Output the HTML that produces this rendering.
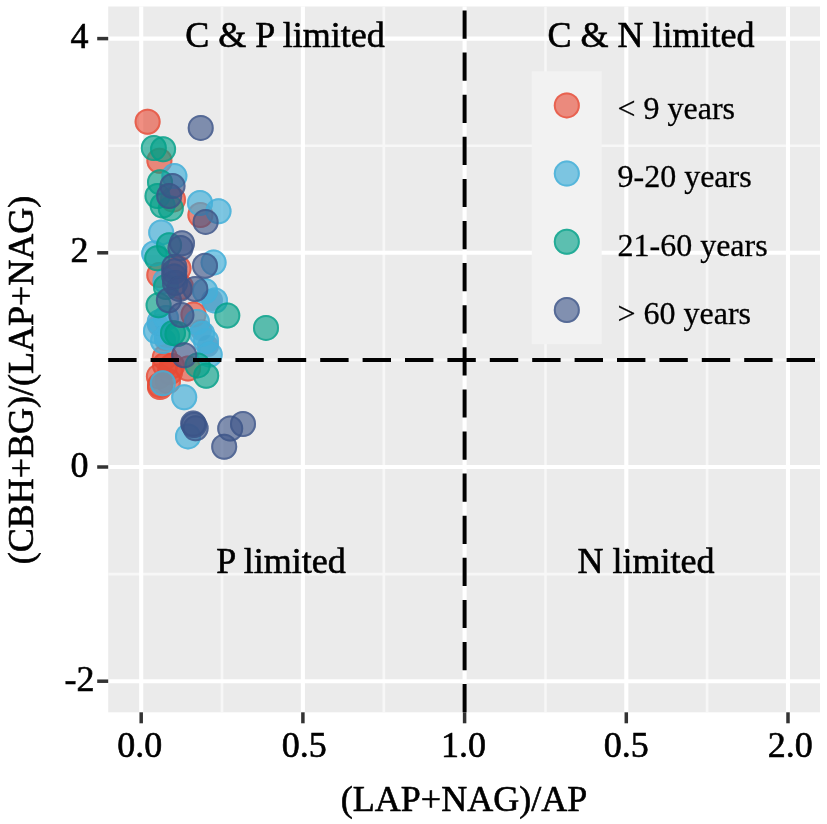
<!DOCTYPE html>
<html><head><meta charset="utf-8"><style>
html,body{margin:0;padding:0;background:#fff;width:827px;height:824px;overflow:hidden}
svg{display:block;filter:blur(0.5px)}
text{font-family:"Liberation Serif",serif;font-size:36px;fill:#000;stroke:#000;stroke-width:0.6px}
</style></head><body>
<svg width="827" height="824" viewBox="0 0 827 824">
<rect x="108.2" y="6.5" width="711.8" height="705.8" fill="#EBEBEB"/>
<line x1="222.0" y1="6.5" x2="222.0" y2="712.3" stroke="#F7F7F7" stroke-width="2.6"/>
<line x1="383.8" y1="6.5" x2="383.8" y2="712.3" stroke="#F7F7F7" stroke-width="2.6"/>
<line x1="545.5" y1="6.5" x2="545.5" y2="712.3" stroke="#F7F7F7" stroke-width="2.6"/>
<line x1="707.1" y1="6.5" x2="707.1" y2="712.3" stroke="#F7F7F7" stroke-width="2.6"/>
<line x1="108.2" y1="145.7" x2="820.0" y2="145.7" stroke="#F7F7F7" stroke-width="2.6"/>
<line x1="108.2" y1="359.9" x2="820.0" y2="359.9" stroke="#F7F7F7" stroke-width="2.6"/>
<line x1="108.2" y1="574.1" x2="820.0" y2="574.1" stroke="#F7F7F7" stroke-width="2.6"/>
<line x1="141.2" y1="6.5" x2="141.2" y2="712.3" stroke="#FFFFFF" stroke-width="4.1"/>
<line x1="302.9" y1="6.5" x2="302.9" y2="712.3" stroke="#FFFFFF" stroke-width="4.1"/>
<line x1="464.6" y1="6.5" x2="464.6" y2="712.3" stroke="#FFFFFF" stroke-width="4.1"/>
<line x1="626.3" y1="6.5" x2="626.3" y2="712.3" stroke="#FFFFFF" stroke-width="4.1"/>
<line x1="788.0" y1="6.5" x2="788.0" y2="712.3" stroke="#FFFFFF" stroke-width="4.1"/>
<line x1="108.2" y1="38.6" x2="820.0" y2="38.6" stroke="#FFFFFF" stroke-width="4.1"/>
<line x1="108.2" y1="252.8" x2="820.0" y2="252.8" stroke="#FFFFFF" stroke-width="4.1"/>
<line x1="108.2" y1="467.0" x2="820.0" y2="467.0" stroke="#FFFFFF" stroke-width="4.1"/>
<line x1="108.2" y1="681.2" x2="820.0" y2="681.2" stroke="#FFFFFF" stroke-width="4.1"/>
<line x1="141.2" y1="712.3" x2="141.2" y2="723.3" stroke="#333" stroke-width="3.5"/>
<line x1="302.9" y1="712.3" x2="302.9" y2="723.3" stroke="#333" stroke-width="3.5"/>
<line x1="464.6" y1="712.3" x2="464.6" y2="723.3" stroke="#333" stroke-width="3.5"/>
<line x1="626.3" y1="712.3" x2="626.3" y2="723.3" stroke="#333" stroke-width="3.5"/>
<line x1="788.0" y1="712.3" x2="788.0" y2="723.3" stroke="#333" stroke-width="3.5"/>
<line x1="97.2" y1="38.6" x2="108.2" y2="38.6" stroke="#333" stroke-width="3.5"/>
<line x1="97.2" y1="252.8" x2="108.2" y2="252.8" stroke="#333" stroke-width="3.5"/>
<line x1="97.2" y1="467.0" x2="108.2" y2="467.0" stroke="#333" stroke-width="3.5"/>
<line x1="97.2" y1="681.2" x2="108.2" y2="681.2" stroke="#333" stroke-width="3.5"/>
<g id="pts">
<circle cx="158" cy="325" r="11" fill="#3C5488" fill-opacity="0.55"/>
<circle cx="165" cy="340" r="11" fill="#3C5488" fill-opacity="0.55"/>
<circle cx="201" cy="330" r="11" fill="#3C5488" fill-opacity="0.55"/>
<circle cx="208" cy="346" r="11" fill="#3C5488" fill-opacity="0.55"/>
<circle cx="212" cy="300" r="11" fill="#3C5488" fill-opacity="0.55"/>
<circle cx="147.6" cy="121.8" r="13" fill="#E64B35" fill-opacity="0.62"/><circle cx="147.6" cy="121.8" r="12" fill="none" stroke="#E64B35" stroke-opacity="0.62" stroke-width="2"/>
<circle cx="159.4" cy="160.7" r="13" fill="#E64B35" fill-opacity="0.62"/><circle cx="159.4" cy="160.7" r="12" fill="none" stroke="#E64B35" stroke-opacity="0.62" stroke-width="2"/>
<circle cx="173" cy="199.6" r="13" fill="#E64B35" fill-opacity="0.62"/><circle cx="173" cy="199.6" r="12" fill="none" stroke="#E64B35" stroke-opacity="0.62" stroke-width="2"/>
<circle cx="200.4" cy="215" r="13" fill="#E64B35" fill-opacity="0.62"/><circle cx="200.4" cy="215" r="12" fill="none" stroke="#E64B35" stroke-opacity="0.62" stroke-width="2"/>
<circle cx="159.3" cy="275" r="13" fill="#E64B35" fill-opacity="0.62"/><circle cx="159.3" cy="275" r="12" fill="none" stroke="#E64B35" stroke-opacity="0.62" stroke-width="2"/>
<circle cx="178.5" cy="268.5" r="13" fill="#E64B35" fill-opacity="0.62"/><circle cx="178.5" cy="268.5" r="12" fill="none" stroke="#E64B35" stroke-opacity="0.62" stroke-width="2"/>
<circle cx="181" cy="287" r="13" fill="#E64B35" fill-opacity="0.62"/><circle cx="181" cy="287" r="12" fill="none" stroke="#E64B35" stroke-opacity="0.62" stroke-width="2"/>
<circle cx="193.5" cy="314.5" r="13" fill="#E64B35" fill-opacity="0.62"/><circle cx="193.5" cy="314.5" r="12" fill="none" stroke="#E64B35" stroke-opacity="0.62" stroke-width="2"/>
<circle cx="164.8" cy="357.4" r="13" fill="#E64B35" fill-opacity="0.62"/><circle cx="164.8" cy="357.4" r="12" fill="none" stroke="#E64B35" stroke-opacity="0.62" stroke-width="2"/>
<circle cx="158.9" cy="376.4" r="13" fill="#E64B35" fill-opacity="0.62"/><circle cx="158.9" cy="376.4" r="12" fill="none" stroke="#E64B35" stroke-opacity="0.62" stroke-width="2"/>
<circle cx="160" cy="385" r="13" fill="#E64B35" fill-opacity="0.62"/><circle cx="160" cy="385" r="12" fill="none" stroke="#E64B35" stroke-opacity="0.62" stroke-width="2"/>
<circle cx="188" cy="368.5" r="13" fill="#E64B35" fill-opacity="0.62"/><circle cx="188" cy="368.5" r="12" fill="none" stroke="#E64B35" stroke-opacity="0.62" stroke-width="2"/>
<circle cx="172" cy="366" r="13" fill="#E64B35" fill-opacity="0.62"/><circle cx="172" cy="366" r="12" fill="none" stroke="#E64B35" stroke-opacity="0.62" stroke-width="2"/>
<circle cx="168" cy="381" r="13" fill="#E64B35" fill-opacity="0.62"/><circle cx="168" cy="381" r="12" fill="none" stroke="#E64B35" stroke-opacity="0.62" stroke-width="2"/>
<circle cx="160" cy="387" r="13" fill="#E64B35" fill-opacity="0.62"/><circle cx="160" cy="387" r="12" fill="none" stroke="#E64B35" stroke-opacity="0.62" stroke-width="2"/>
<circle cx="170" cy="372" r="13" fill="#E64B35" fill-opacity="0.62"/><circle cx="170" cy="372" r="12" fill="none" stroke="#E64B35" stroke-opacity="0.62" stroke-width="2"/>
<circle cx="165" cy="365" r="13" fill="#E64B35" fill-opacity="0.62"/><circle cx="165" cy="365" r="12" fill="none" stroke="#E64B35" stroke-opacity="0.62" stroke-width="2"/>
<circle cx="174.4" cy="176.1" r="13" fill="#44AFD8" fill-opacity="0.68"/><circle cx="174.4" cy="176.1" r="12" fill="none" stroke="#44AFD8" stroke-opacity="0.68" stroke-width="2"/>
<circle cx="200" cy="203" r="13" fill="#44AFD8" fill-opacity="0.68"/><circle cx="200" cy="203" r="12" fill="none" stroke="#44AFD8" stroke-opacity="0.68" stroke-width="2"/>
<circle cx="218.5" cy="211.3" r="13" fill="#44AFD8" fill-opacity="0.68"/><circle cx="218.5" cy="211.3" r="12" fill="none" stroke="#44AFD8" stroke-opacity="0.68" stroke-width="2"/>
<circle cx="161.2" cy="232.5" r="13" fill="#44AFD8" fill-opacity="0.68"/><circle cx="161.2" cy="232.5" r="12" fill="none" stroke="#44AFD8" stroke-opacity="0.68" stroke-width="2"/>
<circle cx="154.2" cy="253.5" r="13" fill="#44AFD8" fill-opacity="0.68"/><circle cx="154.2" cy="253.5" r="12" fill="none" stroke="#44AFD8" stroke-opacity="0.68" stroke-width="2"/>
<circle cx="213.6" cy="262.6" r="13" fill="#44AFD8" fill-opacity="0.68"/><circle cx="213.6" cy="262.6" r="12" fill="none" stroke="#44AFD8" stroke-opacity="0.68" stroke-width="2"/>
<circle cx="205" cy="291" r="13" fill="#44AFD8" fill-opacity="0.68"/><circle cx="205" cy="291" r="12" fill="none" stroke="#44AFD8" stroke-opacity="0.68" stroke-width="2"/>
<circle cx="215" cy="300.5" r="13" fill="#44AFD8" fill-opacity="0.68"/><circle cx="215" cy="300.5" r="12" fill="none" stroke="#44AFD8" stroke-opacity="0.68" stroke-width="2"/>
<circle cx="159.7" cy="322" r="13" fill="#44AFD8" fill-opacity="0.68"/><circle cx="159.7" cy="322" r="12" fill="none" stroke="#44AFD8" stroke-opacity="0.68" stroke-width="2"/>
<circle cx="156" cy="331" r="13" fill="#44AFD8" fill-opacity="0.68"/><circle cx="156" cy="331" r="12" fill="none" stroke="#44AFD8" stroke-opacity="0.68" stroke-width="2"/>
<circle cx="197" cy="322" r="13" fill="#44AFD8" fill-opacity="0.68"/><circle cx="197" cy="322" r="12" fill="none" stroke="#44AFD8" stroke-opacity="0.68" stroke-width="2"/>
<circle cx="206" cy="341" r="13" fill="#44AFD8" fill-opacity="0.68"/><circle cx="206" cy="341" r="12" fill="none" stroke="#44AFD8" stroke-opacity="0.68" stroke-width="2"/>
<circle cx="166" cy="318" r="13" fill="#44AFD8" fill-opacity="0.68"/><circle cx="166" cy="318" r="12" fill="none" stroke="#44AFD8" stroke-opacity="0.68" stroke-width="2"/>
<circle cx="165.5" cy="281" r="13" fill="#44AFD8" fill-opacity="0.68"/><circle cx="165.5" cy="281" r="12" fill="none" stroke="#44AFD8" stroke-opacity="0.68" stroke-width="2"/>
<circle cx="163" cy="341" r="13" fill="#44AFD8" fill-opacity="0.68"/><circle cx="163" cy="341" r="12" fill="none" stroke="#44AFD8" stroke-opacity="0.68" stroke-width="2"/>
<circle cx="167" cy="337" r="13" fill="#44AFD8" fill-opacity="0.68"/><circle cx="167" cy="337" r="12" fill="none" stroke="#44AFD8" stroke-opacity="0.68" stroke-width="2"/>
<circle cx="202" cy="333.7" r="13" fill="#44AFD8" fill-opacity="0.68"/><circle cx="202" cy="333.7" r="12" fill="none" stroke="#44AFD8" stroke-opacity="0.68" stroke-width="2"/>
<circle cx="209.7" cy="354.6" r="13" fill="#44AFD8" fill-opacity="0.68"/><circle cx="209.7" cy="354.6" r="12" fill="none" stroke="#44AFD8" stroke-opacity="0.68" stroke-width="2"/>
<circle cx="162.8" cy="383.3" r="13" fill="#44AFD8" fill-opacity="0.68"/><circle cx="162.8" cy="383.3" r="12" fill="none" stroke="#44AFD8" stroke-opacity="0.68" stroke-width="2"/>
<circle cx="184.2" cy="397.2" r="13" fill="#44AFD8" fill-opacity="0.68"/><circle cx="184.2" cy="397.2" r="12" fill="none" stroke="#44AFD8" stroke-opacity="0.68" stroke-width="2"/>
<circle cx="188" cy="436.4" r="13" fill="#44AFD8" fill-opacity="0.68"/><circle cx="188" cy="436.4" r="12" fill="none" stroke="#44AFD8" stroke-opacity="0.68" stroke-width="2"/>
<circle cx="153.8" cy="148" r="13" fill="#00A087" fill-opacity="0.62"/><circle cx="153.8" cy="148" r="12" fill="none" stroke="#00A087" stroke-opacity="0.62" stroke-width="2"/>
<circle cx="163.1" cy="149.2" r="13" fill="#00A087" fill-opacity="0.62"/><circle cx="163.1" cy="149.2" r="12" fill="none" stroke="#00A087" stroke-opacity="0.62" stroke-width="2"/>
<circle cx="160" cy="182.3" r="13" fill="#00A087" fill-opacity="0.62"/><circle cx="160" cy="182.3" r="12" fill="none" stroke="#00A087" stroke-opacity="0.62" stroke-width="2"/>
<circle cx="157.5" cy="196" r="13" fill="#00A087" fill-opacity="0.62"/><circle cx="157.5" cy="196" r="12" fill="none" stroke="#00A087" stroke-opacity="0.62" stroke-width="2"/>
<circle cx="162.6" cy="205.5" r="13" fill="#00A087" fill-opacity="0.62"/><circle cx="162.6" cy="205.5" r="12" fill="none" stroke="#00A087" stroke-opacity="0.62" stroke-width="2"/>
<circle cx="170.8" cy="208.4" r="13" fill="#00A087" fill-opacity="0.62"/><circle cx="170.8" cy="208.4" r="12" fill="none" stroke="#00A087" stroke-opacity="0.62" stroke-width="2"/>
<circle cx="169.1" cy="245.3" r="13" fill="#00A087" fill-opacity="0.62"/><circle cx="169.1" cy="245.3" r="12" fill="none" stroke="#00A087" stroke-opacity="0.62" stroke-width="2"/>
<circle cx="157.2" cy="258.2" r="13" fill="#00A087" fill-opacity="0.62"/><circle cx="157.2" cy="258.2" r="12" fill="none" stroke="#00A087" stroke-opacity="0.62" stroke-width="2"/>
<circle cx="227.3" cy="315.5" r="13" fill="#00A087" fill-opacity="0.62"/><circle cx="227.3" cy="315.5" r="12" fill="none" stroke="#00A087" stroke-opacity="0.62" stroke-width="2"/>
<circle cx="158.6" cy="305.2" r="13" fill="#00A087" fill-opacity="0.62"/><circle cx="158.6" cy="305.2" r="12" fill="none" stroke="#00A087" stroke-opacity="0.62" stroke-width="2"/>
<circle cx="173" cy="333" r="13" fill="#00A087" fill-opacity="0.62"/><circle cx="173" cy="333" r="12" fill="none" stroke="#00A087" stroke-opacity="0.62" stroke-width="2"/>
<circle cx="177.5" cy="334" r="13" fill="#00A087" fill-opacity="0.62"/><circle cx="177.5" cy="334" r="12" fill="none" stroke="#00A087" stroke-opacity="0.62" stroke-width="2"/>
<circle cx="206.2" cy="375.7" r="13" fill="#00A087" fill-opacity="0.62"/><circle cx="206.2" cy="375.7" r="12" fill="none" stroke="#00A087" stroke-opacity="0.62" stroke-width="2"/>
<circle cx="197.6" cy="365.4" r="13" fill="#00A087" fill-opacity="0.62"/><circle cx="197.6" cy="365.4" r="12" fill="none" stroke="#00A087" stroke-opacity="0.62" stroke-width="2"/>
<circle cx="266" cy="327.9" r="13" fill="#00A087" fill-opacity="0.62"/><circle cx="266" cy="327.9" r="12" fill="none" stroke="#00A087" stroke-opacity="0.62" stroke-width="2"/>
<circle cx="166" cy="287" r="13" fill="#00A087" fill-opacity="0.62"/><circle cx="166" cy="287" r="12" fill="none" stroke="#00A087" stroke-opacity="0.62" stroke-width="2"/>
<circle cx="200.7" cy="127.9" r="13" fill="#3C5488" fill-opacity="0.62"/><circle cx="200.7" cy="127.9" r="12" fill="none" stroke="#3C5488" stroke-opacity="0.62" stroke-width="2"/>
<circle cx="172.5" cy="186" r="13" fill="#3C5488" fill-opacity="0.62"/><circle cx="172.5" cy="186" r="12" fill="none" stroke="#3C5488" stroke-opacity="0.62" stroke-width="2"/>
<circle cx="169.2" cy="196" r="13" fill="#3C5488" fill-opacity="0.62"/><circle cx="169.2" cy="196" r="12" fill="none" stroke="#3C5488" stroke-opacity="0.62" stroke-width="2"/>
<circle cx="205.6" cy="221.9" r="13" fill="#3C5488" fill-opacity="0.62"/><circle cx="205.6" cy="221.9" r="12" fill="none" stroke="#3C5488" stroke-opacity="0.62" stroke-width="2"/>
<circle cx="182" cy="243.2" r="13" fill="#3C5488" fill-opacity="0.62"/><circle cx="182" cy="243.2" r="12" fill="none" stroke="#3C5488" stroke-opacity="0.62" stroke-width="2"/>
<circle cx="180.5" cy="248" r="13" fill="#3C5488" fill-opacity="0.62"/><circle cx="180.5" cy="248" r="12" fill="none" stroke="#3C5488" stroke-opacity="0.62" stroke-width="2"/>
<circle cx="205" cy="265.7" r="13" fill="#3C5488" fill-opacity="0.62"/><circle cx="205" cy="265.7" r="12" fill="none" stroke="#3C5488" stroke-opacity="0.62" stroke-width="2"/>
<circle cx="174.3" cy="271.5" r="13" fill="#3C5488" fill-opacity="0.62"/><circle cx="174.3" cy="271.5" r="12" fill="none" stroke="#3C5488" stroke-opacity="0.62" stroke-width="2"/>
<circle cx="174.3" cy="267" r="13" fill="#3C5488" fill-opacity="0.62"/><circle cx="174.3" cy="267" r="12" fill="none" stroke="#3C5488" stroke-opacity="0.62" stroke-width="2"/>
<circle cx="174.3" cy="276.5" r="13" fill="#3C5488" fill-opacity="0.62"/><circle cx="174.3" cy="276.5" r="12" fill="none" stroke="#3C5488" stroke-opacity="0.62" stroke-width="2"/>
<circle cx="175" cy="283" r="13" fill="#3C5488" fill-opacity="0.62"/><circle cx="175" cy="283" r="12" fill="none" stroke="#3C5488" stroke-opacity="0.62" stroke-width="2"/>
<circle cx="179.5" cy="289" r="13" fill="#3C5488" fill-opacity="0.62"/><circle cx="179.5" cy="289" r="12" fill="none" stroke="#3C5488" stroke-opacity="0.62" stroke-width="2"/>
<circle cx="195.3" cy="289" r="13" fill="#3C5488" fill-opacity="0.62"/><circle cx="195.3" cy="289" r="12" fill="none" stroke="#3C5488" stroke-opacity="0.62" stroke-width="2"/>
<circle cx="168.9" cy="300.3" r="13" fill="#3C5488" fill-opacity="0.62"/><circle cx="168.9" cy="300.3" r="12" fill="none" stroke="#3C5488" stroke-opacity="0.62" stroke-width="2"/>
<circle cx="181.4" cy="315" r="13" fill="#3C5488" fill-opacity="0.62"/><circle cx="181.4" cy="315" r="12" fill="none" stroke="#3C5488" stroke-opacity="0.62" stroke-width="2"/>
<circle cx="184.2" cy="355.3" r="13" fill="#3C5488" fill-opacity="0.62"/><circle cx="184.2" cy="355.3" r="12" fill="none" stroke="#3C5488" stroke-opacity="0.62" stroke-width="2"/>
<circle cx="193.2" cy="423.6" r="13" fill="#3C5488" fill-opacity="0.62"/><circle cx="193.2" cy="423.6" r="12" fill="none" stroke="#3C5488" stroke-opacity="0.62" stroke-width="2"/>
<circle cx="195.6" cy="428.2" r="13" fill="#3C5488" fill-opacity="0.62"/><circle cx="195.6" cy="428.2" r="12" fill="none" stroke="#3C5488" stroke-opacity="0.62" stroke-width="2"/>
<circle cx="194" cy="425" r="13" fill="#3C5488" fill-opacity="0.62"/><circle cx="194" cy="425" r="12" fill="none" stroke="#3C5488" stroke-opacity="0.62" stroke-width="2"/>
<circle cx="230.2" cy="428.5" r="13" fill="#3C5488" fill-opacity="0.62"/><circle cx="230.2" cy="428.5" r="12" fill="none" stroke="#3C5488" stroke-opacity="0.62" stroke-width="2"/>
<circle cx="243" cy="424" r="13" fill="#3C5488" fill-opacity="0.62"/><circle cx="243" cy="424" r="12" fill="none" stroke="#3C5488" stroke-opacity="0.62" stroke-width="2"/>
<circle cx="224.2" cy="446.7" r="13" fill="#3C5488" fill-opacity="0.62"/><circle cx="224.2" cy="446.7" r="12" fill="none" stroke="#3C5488" stroke-opacity="0.62" stroke-width="2"/>
</g>
<line x1="464.6" y1="712.3" x2="464.6" y2="6.5" stroke="#000" stroke-width="4" stroke-dasharray="28.2 13.9"/>
<line x1="108.2" y1="359.9" x2="820.0" y2="359.9" stroke="#000" stroke-width="4" stroke-dasharray="28.4 14"/>
<rect x="531.8" y="71.3" width="69.9" height="272.8" fill="#F2F2F2"/>
<circle cx="566.8" cy="105.4" r="13" fill="#E64B35" fill-opacity="0.62"/><circle cx="566.8" cy="105.4" r="12" fill="none" stroke="#E64B35" stroke-opacity="0.62" stroke-width="2"/>
<circle cx="566.8" cy="173.6" r="13" fill="#44AFD8" fill-opacity="0.68"/><circle cx="566.8" cy="173.6" r="12" fill="none" stroke="#44AFD8" stroke-opacity="0.68" stroke-width="2"/>
<circle cx="566.8" cy="241.8" r="13" fill="#00A087" fill-opacity="0.62"/><circle cx="566.8" cy="241.8" r="12" fill="none" stroke="#00A087" stroke-opacity="0.62" stroke-width="2"/>
<circle cx="566.8" cy="310.0" r="13" fill="#3C5488" fill-opacity="0.62"/><circle cx="566.8" cy="310.0" r="12" fill="none" stroke="#3C5488" stroke-opacity="0.62" stroke-width="2"/>
<text x="79.4" y="48.1" text-anchor="middle">4</text>
<text x="79.4" y="262.3" text-anchor="middle">2</text>
<text x="79.4" y="476.5" text-anchor="middle">0</text>
<text x="79.4" y="690.7" text-anchor="middle">-2</text>
<text x="139.8" y="757" text-anchor="middle">0.0</text>
<text x="304.3" y="757" text-anchor="middle">0.5</text>
<text x="463.6" y="757" text-anchor="middle">1.0</text>
<text x="626.3" y="757" text-anchor="middle">0.5</text>
<text x="790.3" y="757" text-anchor="middle">2.0</text>
<text x="464" y="811" text-anchor="middle">(LAP+NAG)/AP</text>
<text transform="translate(32.6,380) rotate(-90)" text-anchor="middle">(CBH+BG)/(LAP+NAG)</text>
<text x="285" y="47" text-anchor="middle">C &amp; P limited</text>
<text x="651" y="47" text-anchor="middle">C &amp; N limited</text>
<text x="281" y="572.5" text-anchor="middle">P limited</text>
<text x="646" y="572.5" text-anchor="middle">N limited</text>
<text x="617.5" y="119.2" style="font-size:32px;stroke-width:0.3px">&lt; 9 years</text>
<text x="617.5" y="187.4" style="font-size:32px;stroke-width:0.3px">9-20 years</text>
<text x="617.5" y="255.6" style="font-size:32px;stroke-width:0.3px">21-60 years</text>
<text x="617.5" y="323.8" style="font-size:32px;stroke-width:0.3px">&gt; 60 years</text>
</svg>
</body></html>
